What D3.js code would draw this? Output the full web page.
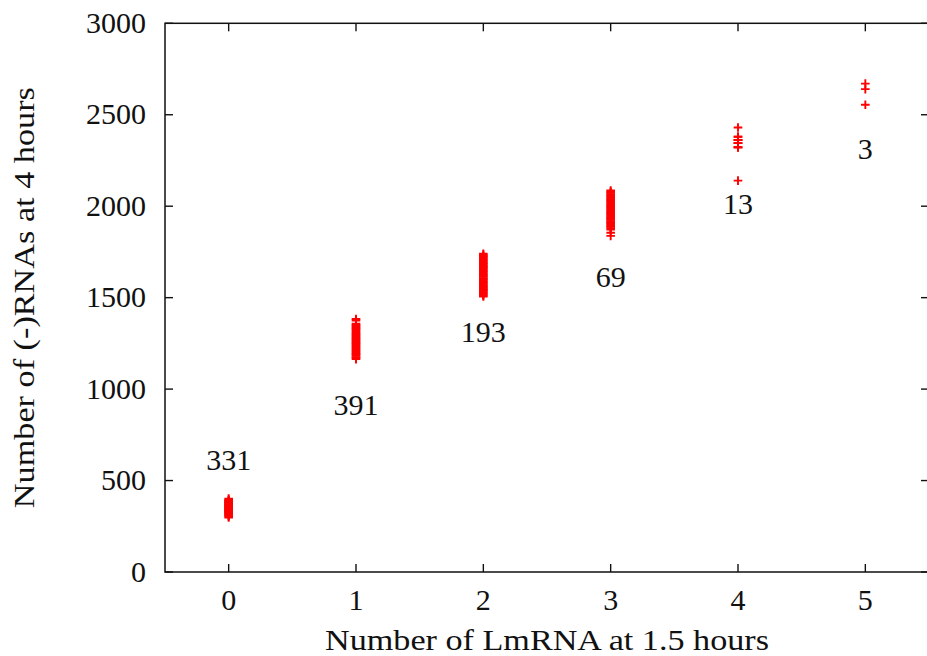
<!DOCTYPE html>
<html>
<head>
<meta charset="utf-8">
<script src="https://cdn.jsdelivr.net/npm/d3@7"></script>
<style>
  html, body { margin: 0; padding: 0; background: #fff; }
  svg { display: block; }
  text { font-family: "Liberation Serif", "Times New Roman", serif; fill: #111; }
</style>
</head>
<body>
<script>
// LmRNA count at 1.5 h (x categories)
const lmrnaCounts = [0, 1, 2, 3, 4, 5];

// (-)RNA counts at 4 h observed for each LmRNA count
const minusRNA_L0 = [298, 304, 309, 313, 317, 321, 324, 328, 331, 334, 337, 340, 343, 346, 349, 352, 355, 358, 361, 364, 367, 370, 373, 376, 379, 382, 385, 388, 391, 395, 401];
const minusRNA_L1 = [1164, 1170, 1175, 1182, 1188, 1193, 1199, 1205, 1211, 1216, 1222, 1228, 1233, 1239, 1245, 1251, 1256, 1262, 1268, 1274, 1279, 1286, 1291, 1297, 1303, 1309, 1314, 1321, 1327, 1333, 1338, 1345, 1351, 1357, 1375, 1383];
const minusRNA_L2 = [1506, 1511, 1518, 1524, 1529, 1536, 1542, 1547, 1554, 1560, 1565, 1572, 1578, 1584, 1589, 1596, 1602, 1607, 1614, 1620, 1626, 1631, 1638, 1644, 1649, 1656, 1662, 1668, 1673, 1680, 1686, 1691, 1698, 1704, 1710, 1715, 1722, 1728, 1734, 1740];
const minusRNA_L3 = [1838, 1855, 1872, 1880, 1887, 1893, 1900, 1906, 1912, 1918, 1925, 1931, 1937, 1944, 1950, 1957, 1963, 1970, 1976, 1982, 1989, 1995, 2001, 2008, 2014, 2021, 2027, 2034, 2040, 2047, 2053, 2060, 2066, 2073, 2079, 2086];
const minusRNA_L4 = [2430, 2380, 2380, 2362, 2362, 2362, 2345, 2345, 2345, 2322, 2322, 2322, 2140];
const minusRNA_L5 = [2670, 2640, 2555];

// Number of runs per LmRNA count, and where each count label sits
const runCounts = [331, 391, 193, 69, 13, 3];
const runLabelY = [600, 900, 1300, 1600, 2000, 2300];

// Axis ticks
const xTicks = [0, 1, 2, 3, 4, 5];
const yTicks = [0, 500, 1000, 1500, 2000, 2500, 3000];

const xTitle = "Number of LmRNA at 1.5 hours";
const yTitle = "Number of (-)RNAs at 4 hours";

const W = 927, H = 656;
const plot = { left: 165, right: 929, top: 23.3, bottom: 572 };

const x = d3.scaleLinear().domain([-0.5, 5.5]).range([plot.left, plot.right]);
const y = d3.scaleLinear().domain([0, 3000]).range([plot.bottom, plot.top]);

const svg = d3.select("body").append("svg")
  .attr("width", W).attr("height", H);

const tickLen = 8;
const axisColor = "#111";

// Ticks on all four sides, pointing inward
const ax = svg.append("g").attr("stroke", axisColor).attr("stroke-width", 1.4);
xTicks.forEach(t => {
  ax.append("line").attr("x1", x(t)).attr("x2", x(t)).attr("y1", plot.bottom).attr("y2", plot.bottom - tickLen);
  ax.append("line").attr("x1", x(t)).attr("x2", x(t)).attr("y1", plot.top).attr("y2", plot.top + tickLen);
});
yTicks.forEach(t => {
  ax.append("line").attr("x1", plot.left).attr("x2", plot.left + tickLen).attr("y1", y(t)).attr("y2", y(t));
  ax.append("line").attr("x1", plot.right).attr("x2", plot.right - tickLen).attr("y1", y(t)).attr("y2", y(t));
});

// Frame
svg.append("rect")
  .attr("x", plot.left).attr("y", plot.top)
  .attr("width", plot.right - plot.left).attr("height", plot.bottom - plot.top)
  .attr("fill", "none").attr("stroke", axisColor).attr("stroke-width", 1.5);

// Tick labels
svg.append("g").selectAll("text").data(xTicks).join("text")
  .attr("x", d => x(d)).attr("y", 610)
  .attr("text-anchor", "middle").attr("font-size", 30)
  .text(d => d);

svg.append("g").selectAll("text").data(yTicks).join("text")
  .attr("x", 146).attr("y", d => y(d) + 9.5)
  .attr("text-anchor", "end").attr("font-size", 30)
  .text(d => d);

// Axis titles
svg.append("text")
  .attr("x", (plot.left + plot.right) / 2).attr("y", 650)
  .attr("text-anchor", "middle").attr("font-size", 30)
  .attr("textLength", 444).attr("lengthAdjust", "spacingAndGlyphs")
  .text(xTitle);

svg.append("text")
  .attr("transform", `translate(34,${(plot.top + plot.bottom) / 2}) rotate(-90)`)
  .attr("text-anchor", "middle").attr("font-size", 30)
  .attr("textLength", 421).attr("lengthAdjust", "spacingAndGlyphs")
  .text(yTitle);

// Points
const columns = [minusRNA_L0, minusRNA_L1, minusRNA_L2, minusRNA_L3, minusRNA_L4, minusRNA_L5];
const points = [];
columns.forEach((vals, i) => vals.forEach(v => points.push({ lm: lmrnaCounts[i], rna: v })));

const arm = 4.3;
svg.append("g")
  .attr("stroke", "#ff0000").attr("stroke-width", 1.9).attr("fill", "none")
  .selectAll("path").data(points).join("path")
  .attr("d", d => {
    const px = x(d.lm), py = y(d.rna);
    return `M${px - arm},${py}H${px + arm}M${px},${py - arm}V${py + arm}`;
  });

// Run-count labels
svg.append("g").selectAll("text").data(lmrnaCounts).join("text")
  .attr("x", d => x(d)).attr("y", (d, i) => y(runLabelY[i]) + 8)
  .attr("text-anchor", "middle").attr("font-size", 30)
  .text((d, i) => runCounts[i]);
</script>
</body>
</html>
